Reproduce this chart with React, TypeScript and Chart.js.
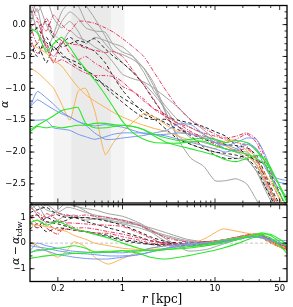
import React, { useEffect, useRef } from 'react';
import { Chart, registerables } from 'chart.js';

Chart.register(...registerables);

// ---------- top panel: alpha(r) ----------
const R_TOP = [0.1, 0.12, 0.15, 0.18, 0.22, 0.27, 0.33, 0.4, 0.5, 0.65, 0.8, 1, 1.3, 1.7, 2.2, 3, 4, 5.5, 7.5, 10, 13, 17, 22, 28, 35, 45, 60];

const alphaGray1 = [0.5, 0.7, 0.6, 0.55, 0.5, 0.45, 0.4, 0.3, 0.1, -0.18, -0.42, -0.47, -0.55, -0.68, -0.93, -1.4, -1.8, -2.1, -2.22, -2.45, -2.45, -2.42, -2.5, -2.75, -3.0, -3.2, -3.3];
const alphaGray2 = [0.1, 0.35, 0.0, -0.2, 0.05, 0.2, 0.1, -0.05, -0.1, -0.12, -0.32, -0.43, -0.5, -0.69, -0.98, -1.42, -1.75, -1.88, -1.95, -2.0, -2.05, -2.1, -2.12, -2.3, -2.6, -2.9, -3.1];
const alphaGray3 = [0.0, 0.25, -0.4, -0.15, 0.2, 0.35, 0.3, 0.05, -0.1, -0.3, -0.45, -0.6, -0.75, -0.92, -1.1, -1.35, -1.6, -1.78, -1.85, -1.9, -1.95, -2.0, -2.0, -2.2, -2.5, -2.85, -3.0];
const alphaGray4 = [0.3, -0.1, -0.35, -0.5, -0.3, -0.1, -0.2, -0.25, -0.35, -0.45, -0.6, -0.78, -0.85, -0.9, -1.0, -1.15, -1.3, -1.5, -1.65, -1.8, -1.9, -2.0, -2.1, -2.3, -2.55, -2.8, -3.0];
const alphaGray5 = [0.45, 0.2, 0.4, 0.1, -0.05, 0.05, -0.1, -0.3, -0.2, -0.25, -0.3, -0.35, -0.5, -0.75, -1.05, -1.3, -1.5, -1.62, -1.72, -1.82, -1.88, -1.95, -2.05, -2.2, -2.45, -2.75, -2.95];

const alphaBlack1 = [-0.1, -0.05, -0.28, -0.36, -0.45, -0.58, -0.66, -0.72, -0.8, -0.98, -1.1, -1.22, -1.35, -1.46, -1.49, -1.49, -1.6, -1.75, -1.92, -2.05, -2.1, -2.1, -2.05, -2.15, -2.4, -2.75, -3.0];
const alphaBlack2 = [-0.3, -0.5, -0.2, -0.4, -0.3, -0.2, -0.3, -0.35, -0.42, -0.6, -0.82, -1.03, -1.22, -1.4, -1.48, -1.65, -1.8, -1.88, -1.95, -2.0, -2.02, -2.05, -2.1, -2.25, -2.55, -2.85, -3.1];
const alphaBlack3 = [-0.15, -0.05, 0.05, -0.2, -0.35, -0.3, -0.25, -0.28, -0.22, -0.38, -0.5, -0.6, -0.75, -0.95, -1.2, -1.45, -1.5, -1.55, -1.6, -1.68, -1.75, -1.9, -2.05, -2.13, -2.2, -2.5, -2.9];
const alphaBlack4 = [-0.5, -0.3, -0.6, -0.35, -0.5, -0.55, -0.6, -0.7, -0.85, -0.95, -1.05, -1.15, -1.25, -1.35, -1.45, -1.55, -1.65, -1.72, -1.8, -1.85, -1.88, -1.9, -1.93, -2.05, -2.35, -2.7, -3.0];

const alphaRed1 = [0.0, -0.3, 0.1, -0.15, -0.25, -0.3, -0.32, -0.37, -0.4, -0.44, -0.42, -0.5, -0.72, -0.95, -1.18, -1.48, -1.6, -1.7, -1.75, -1.8, -1.85, -1.8, -1.72, -1.85, -2.2, -2.6, -3.0];
const alphaRed2 = [-0.2, -0.45, -0.3, -0.6, -0.55, -0.62, -0.7, -0.76, -0.8, -0.8, -0.82, -0.97, -1.05, -1.17, -1.33, -1.45, -1.55, -1.62, -1.7, -1.75, -1.8, -1.85, -1.9, -2.1, -2.45, -2.8, -3.1];
const alphaRed3 = [0.35, 0.1, -0.1, 0.15, 0.0, -0.1, 0.05, 0.05, 0.02, -0.05, -0.12, -0.22, -0.35, -0.5, -0.75, -1.05, -1.3, -1.5, -1.62, -1.72, -1.78, -1.75, -1.7, -1.8, -2.1, -2.5, -2.9];
const alphaRed4 = [-0.05, 0.05, -0.35, -0.6, -0.25, -0.45, -0.55, -0.5, -0.6, -0.7, -0.8, -0.9, -1.05, -1.2, -1.32, -1.42, -1.55, -1.68, -1.78, -1.88, -1.95, -1.98, -1.95, -2.1, -2.4, -2.75, -3.0];

const alphaOrange1 = [-0.3, -0.36, -0.45, -0.56, -0.65, -0.82, -0.98, -1.1, -1.2, -1.3, -1.38, -1.45, -1.52, -1.58, -1.63, -1.68, -1.75, -1.82, -1.9, -1.95, -1.82, -1.82, -1.98, -2.15, -2.35, -2.6, -2.95];
const alphaOrange2 = [-0.68, -0.75, -0.88, -1.0, -1.25, -1.5, -1.05, -1.0, -1.35, -2.04, -1.85, -1.68, -1.53, -1.4, -1.45, -1.58, -1.68, -1.72, -1.78, -1.85, -1.9, -1.98, -2.05, -2.2, -2.45, -2.75, -3.0];

const alphaBlue1 = [-1.3, -1.18, -1.26, -1.33, -1.4, -1.45, -1.52, -1.58, -1.7, -1.8, -1.8, -1.78, -1.76, -1.74, -1.7, -1.66, -1.56, -1.57, -1.72, -1.85, -1.95, -1.98, -1.88, -1.95, -2.15, -2.4, -2.45];
const alphaBlue2 = [-1.5, -1.5, -1.5, -1.62, -1.64, -1.66, -1.72, -1.76, -1.8, -1.76, -1.72, -1.7, -1.7, -1.7, -1.72, -1.75, -1.8, -1.85, -1.9, -1.95, -2.0, -1.95, -1.85, -1.95, -2.25, -2.5, -2.7];
const alphaBlue3 = [-1.3, -1.05, -1.15, -1.25, -1.37, -1.45, -1.52, -1.56, -1.59, -1.57, -1.59, -1.61, -1.66, -1.71, -1.73, -1.72, -1.7, -1.72, -1.78, -1.85, -1.9, -1.85, -1.78, -1.8, -2.05, -2.45, -2.5];

const alphaGreen1 = [-0.05, -0.13, -0.43, -0.3, -0.2, -0.36, -0.55, -0.7, -0.87, -1.1, -1.3, -1.52, -1.7, -1.8, -1.85, -1.86, -1.86, -1.84, -1.83, -1.9, -1.95, -2.0, -2.03, -2.1, -2.2, -2.55, -2.85];
const alphaGreen2 = [-1.65, -1.58, -1.5, -1.43, -1.35, -1.32, -1.3, -1.55, -1.62, -1.62, -1.6, -1.58, -1.6, -1.65, -1.72, -1.78, -1.82, -1.8, -1.78, -1.8, -1.85, -1.82, -1.85, -1.98, -2.15, -2.4, -2.75];
const alphaGreen3 = [-1.68, -1.6, -1.62, -1.6, -1.62, -1.6, -1.58, -1.58, -1.55, -1.55, -1.57, -1.58, -1.6, -1.65, -1.75, -1.85, -1.9, -1.95, -2.0, -2.05, -2.12, -2.15, -2.1, -2.05, -2.1, -2.4, -2.8];

// ---------- bottom panel: alpha - alpha_tdw ----------
const R_RES = [0.1, 0.12, 0.15, 0.2, 0.25, 0.3, 0.4, 0.5, 0.7, 1, 1.5, 2, 3, 5, 8, 12, 18, 25, 32, 40, 50, 60];

const resGray1 = [1.7, 1.8, 1.7, 1.6, 1.55, 1.45, 1.35, 1.3, 1.15, 1.05, 0.8, 0.55, 0.15, -0.3, -0.25, -0.05, 0.15, 0.3, 0.25, 0.05, -0.15, -0.25];
const resGray2 = [1.4, 1.6, 1.3, 1.2, 1.4, 1.35, 1.2, 1.1, 1.0, 0.85, 0.7, 0.45, 0.05, -0.1, -0.1, 0.05, 0.2, 0.3, 0.3, 0.1, -0.1, -0.2];
const resGray3 = [1.3, 1.5, 1.0, 1.3, 1.6, 1.5, 1.25, 1.05, 0.85, 0.75, 0.6, 0.45, 0.25, 0.05, 0.0, 0.1, 0.22, 0.3, 0.28, 0.1, -0.05, -0.15];
const resGray4 = [1.5, 1.1, 0.8, 0.9, 1.1, 1.0, 1.0, 0.95, 0.9, 0.8, 0.7, 0.6, 0.4, 0.15, 0.05, 0.1, 0.2, 0.25, 0.22, 0.05, -0.1, -0.2];
const resGray5 = [1.6, 1.3, 1.5, 1.2, 1.05, 1.1, 0.9, 0.95, 0.95, 0.9, 0.75, 0.5, 0.3, 0.1, 0.05, 0.12, 0.25, 0.32, 0.3, 0.12, -0.05, -0.15];

const resBlack1 = [1.05, 1.1, 0.85, 0.75, 0.65, 0.55, 0.45, 0.4, 0.3, 0.15, 0.05, -0.05, -0.1, -0.1, -0.05, 0.05, 0.15, 0.25, 0.2, 0.0, -0.15, -0.25];
const resBlack2 = [0.8, 0.6, 1.0, 0.8, 0.9, 1.0, 0.85, 0.75, 0.6, 0.45, 0.25, 0.1, 0.0, -0.05, 0.0, 0.1, 0.2, 0.3, 0.25, 0.05, -0.1, -0.2];
const resBlack3 = [1.2, 1.3, 1.4, 1.1, 1.0, 1.0, 1.0, 0.95, 0.85, 0.7, 0.45, 0.25, 0.05, 0.0, 0.05, 0.12, 0.22, 0.3, 0.28, 0.15, 0.0, -0.1];
const resBlack4 = [0.55, 0.75, 0.45, 0.6, 0.55, 0.5, 0.45, 0.35, 0.25, 0.1, 0.0, -0.05, -0.05, -0.05, 0.0, 0.08, 0.18, 0.28, 0.22, 0.05, -0.1, -0.2];

const resRed1 = [1.05, 0.75, 1.15, 0.9, 0.8, 0.78, 0.75, 0.72, 0.7, 0.65, 0.4, 0.2, -0.05, -0.05, 0.0, 0.1, 0.25, 0.35, 0.3, 0.1, -0.05, -0.15];
const resRed2 = [0.85, 0.6, 0.75, 0.5, 0.55, 0.5, 0.45, 0.4, 0.38, 0.25, 0.12, 0.0, -0.05, -0.05, 0.05, 0.12, 0.2, 0.3, 0.25, 0.05, -0.15, -0.25];
const resRed3 = [1.4, 1.2, 1.0, 1.15, 1.1, 1.05, 1.1, 1.05, 1.0, 0.9, 0.7, 0.5, 0.2, 0.05, 0.05, 0.12, 0.25, 0.35, 0.35, 0.15, 0.0, -0.1];
const resRed4 = [1.0, 1.1, 0.6, 0.35, 0.75, 0.6, 0.6, 0.55, 0.45, 0.35, 0.2, 0.08, 0.0, -0.02, 0.02, 0.1, 0.22, 0.32, 0.3, 0.1, -0.05, -0.15];

const resOrange1 = [0.72, 0.7, 0.65, 0.55, 0.45, 0.3, 0.15, 0.0, -0.1, -0.2, -0.25, -0.25, -0.2, -0.1, 0.2, 0.55, 0.45, 0.35, 0.25, 0.05, -0.1, -0.2];
const resOrange2 = [0.0, -0.1, -0.3, -0.55, -0.3, 0.05, -0.15, -0.55, -0.82, -0.6, -0.35, -0.2, -0.1, -0.05, 0.02, 0.12, 0.22, 0.3, 0.2, 0.0, -0.15, -0.3];

const resBlue1 = [-0.1, -0.15, -0.2, -0.3, -0.35, -0.4, -0.42, -0.45, -0.5, -0.5, -0.45, -0.35, -0.2, 0.0, 0.0, 0.05, 0.18, 0.25, 0.22, 0.1, 0.0, -0.1];
const resBlue2 = [-0.4, -0.25, -0.3, -0.45, -0.5, -0.55, -0.6, -0.62, -0.62, -0.55, -0.45, -0.35, -0.2, -0.1, -0.05, 0.05, 0.15, 0.25, 0.25, 0.1, 0.0, -0.1];
const resBlue3 = [-0.3, 0.0, -0.1, -0.2, -0.28, -0.32, -0.35, -0.38, -0.36, -0.38, -0.3, -0.2, -0.1, -0.05, 0.0, 0.1, 0.2, 0.25, 0.2, 0.15, 0.1, 0.1];

const resGreen1 = [0.8, 0.9, 0.7, 0.85, 0.7, 0.55, 0.45, 0.35, 0.2, 0.0, -0.2, -0.3, -0.25, -0.15, -0.05, 0.1, 0.2, 0.3, 0.4, 0.3, 0.05, -0.1];
const resGreen2 = [-0.35, -0.3, -0.25, -0.2, -0.15, -0.1, -0.2, -0.35, -0.35, -0.3, -0.3, -0.28, -0.25, -0.2, -0.1, 0.0, 0.15, 0.3, 0.35, 0.35, 0.15, -0.05];
const resGreen3 = [-0.6, -0.55, -0.5, -0.45, -0.42, -0.4, -0.38, -0.35, -0.32, -0.3, -0.4, -0.55, -0.62, -0.5, -0.35, -0.2, 0.0, 0.2, 0.3, 0.2, -0.1, -0.4];

const ZERO_R = [0.1, 60];
const ZERO_V = [0, 0];

// ---------- axes ----------
const X_MIN = 0.1;
const X_MAX = 60;
const X_MAJOR = [0.2, 1, 10, 50];
const X_LABELS = ['0.2', '1', '10', '50'];
const X_MINOR = [0.3, 0.4, 0.5, 0.6, 0.7, 0.8, 0.9, 2, 3, 4, 5, 6, 7, 8, 9, 20, 30, 40];
const Y_TOP_RANGE = [-2.8, 0.3];
const Y_TOP_MAJOR = [0, -0.5, -1, -1.5, -2, -2.5];
const Y_TOP_LABELS = ['0.0', '−0.5', '−1.0', '−1.5', '−2.0', '−2.5'];
const Y_BOT_RANGE = [-1.5, 1.5];
const Y_BOT_MAJOR = [1, 0, -1];
const Y_BOT_LABELS = ['1', '0', '−1'];
const BAND_START = [0.18, 0.28];
const BAND_END = [0.75, 1.05];

const STYLE: Record<string, any> = {
  gray: { borderColor: '#a2a2a2', borderWidth: 1, borderDash: [], order: 6 },
  black: { borderColor: '#1e1e1e', borderWidth: 1, borderDash: [3.5, 2.5], order: 5 },
  red: { borderColor: '#e2375f', borderWidth: 1, borderDash: [4, 1.5, 1, 1.5], order: 4 },
  orange: { borderColor: '#fab14f', borderWidth: 1, borderDash: [], order: 3 },
  blue: { borderColor: '#7398ee', borderWidth: 1, borderDash: [], order: 2 },
  green: { borderColor: '#2ce62c', borderWidth: 1.1, borderDash: [], order: 1 },
};

const TOP_SERIES: [number[], string][] = [
  [alphaGray1, 'gray'], [alphaGray2, 'gray'], [alphaGray3, 'gray'], [alphaGray4, 'gray'], [alphaGray5, 'gray'],
  [alphaBlack1, 'black'], [alphaBlack2, 'black'], [alphaBlack3, 'black'], [alphaBlack4, 'black'],
  [alphaRed1, 'red'], [alphaRed2, 'red'], [alphaRed3, 'red'], [alphaRed4, 'red'],
  [alphaOrange1, 'orange'], [alphaOrange2, 'orange'],
  [alphaBlue1, 'blue'], [alphaBlue2, 'blue'], [alphaBlue3, 'blue'],
  [alphaGreen1, 'green'], [alphaGreen2, 'green'], [alphaGreen3, 'green'],
];

const BOT_SERIES: [number[], string][] = [
  [resGray1, 'gray'], [resGray2, 'gray'], [resGray3, 'gray'], [resGray4, 'gray'], [resGray5, 'gray'],
  [resBlack1, 'black'], [resBlack2, 'black'], [resBlack3, 'black'], [resBlack4, 'black'],
  [resRed1, 'red'], [resRed2, 'red'], [resRed3, 'red'], [resRed4, 'red'],
  [resOrange1, 'orange'], [resOrange2, 'orange'],
  [resBlue1, 'blue'], [resBlue2, 'blue'], [resBlue3, 'blue'],
  [resGreen1, 'green'], [resGreen2, 'green'], [resGreen3, 'green'],
];

const TICK_FONT = '8.5px "DejaVu Sans"';
const SERIF = '"DejaVu Serif"';

function makeDatasets(rs: number[], series: [number[], string][]) {
  return series.map(([vals, kind]) => ({
    data: rs.map((r, i) => ({ x: r, y: vals[i] })),
    ...STYLE[kind],
    pointRadius: 0,
    tension: 0.2,
    fill: false,
  }));
}

function yMinorTicks(range: number[], step: number) {
  const out: number[] = [];
  const start = Math.ceil(range[0] / step - 1e-9);
  const end = Math.floor(range[1] / step + 1e-9);
  for (let k = start; k <= end; k++) out.push(k * step);
  return out;
}

type Part = { text: string; font: string; dy?: number };

function drawRich(ctx: CanvasRenderingContext2D, parts: Part[], x: number, y: number, rotate: boolean) {
  ctx.save();
  ctx.translate(x, y);
  if (rotate) ctx.rotate(-Math.PI / 2);
  let total = 0;
  parts.forEach((p) => {
    ctx.font = p.font;
    total += ctx.measureText(p.text).width;
  });
  let cx = -total / 2;
  ctx.textAlign = 'left';
  ctx.textBaseline = 'alphabetic';
  ctx.fillStyle = '#000';
  parts.forEach((p) => {
    ctx.font = p.font;
    ctx.fillText(p.text, cx, p.dy || 0);
    cx += ctx.measureText(p.text).width;
  });
  ctx.restore();
}

type FrameOpts = {
  yMajor: number[];
  yLabels: string[];
  yMinor: number[];
  xLabels?: string[];
  bands?: boolean;
  titles: (ctx: CanvasRenderingContext2D, area: any) => void;
};

function framePlugin(o: FrameOpts) {
  return {
    id: 'mplFrame',
    beforeDatasetsDraw(chart: any) {
      if (!o.bands) return;
      const { ctx, chartArea: a } = chart;
      const xs = chart.scales.x;
      ctx.save();
      ctx.fillStyle = 'rgba(0,0,0,0.045)';
      BAND_START.forEach((s, i) => {
        const x0 = xs.getPixelForValue(s);
        const x1 = xs.getPixelForValue(BAND_END[i]);
        ctx.fillRect(x0, a.top, x1 - x0, a.bottom - a.top);
      });
      ctx.restore();
    },
    afterDatasetsDraw(chart: any) {
      const { ctx, chartArea: a } = chart;
      const xs = chart.scales.x;
      const ys = chart.scales.y;
      ctx.save();
      ctx.strokeStyle = '#000';
      ctx.lineWidth = 0.8;
      ctx.beginPath();
      const tickX = (v: number, len: number) => {
        const p = xs.getPixelForValue(v);
        ctx.moveTo(p, a.bottom);
        ctx.lineTo(p, a.bottom - len);
        ctx.moveTo(p, a.top);
        ctx.lineTo(p, a.top + len);
      };
      const tickY = (v: number, len: number) => {
        const p = ys.getPixelForValue(v);
        ctx.moveTo(a.left, p);
        ctx.lineTo(a.left + len, p);
        ctx.moveTo(a.right, p);
        ctx.lineTo(a.right - len, p);
      };
      X_MAJOR.forEach((v) => tickX(v, 4.5));
      X_MINOR.forEach((v) => tickX(v, 2.5));
      o.yMajor.forEach((v) => tickY(v, 4.5));
      o.yMinor.forEach((v) => tickY(v, 2.5));
      ctx.stroke();
      ctx.lineWidth = 1.3;
      ctx.strokeRect(a.left, a.top, a.right - a.left, a.bottom - a.top);

      ctx.fillStyle = '#000';
      ctx.font = TICK_FONT;
      ctx.textAlign = 'right';
      ctx.textBaseline = 'middle';
      o.yMajor.forEach((v, i) => ctx.fillText(o.yLabels[i], a.left - 4, ys.getPixelForValue(v)));
      if (o.xLabels) {
        ctx.textAlign = 'center';
        ctx.textBaseline = 'top';
        X_MAJOR.forEach((v, i) => ctx.fillText(o.xLabels![i], xs.getPixelForValue(v), a.bottom + 3.5));
      }
      ctx.restore();
      o.titles(ctx, a);
    },
  };
}

function baseOptions(yRange: number[], padding: any) {
  return {
    animation: false,
    responsive: false,
    devicePixelRatio: 1,
    events: [],
    layout: { padding },
    plugins: { legend: { display: false }, tooltip: { enabled: false } },
    scales: {
      x: { type: 'logarithmic', min: X_MIN, max: X_MAX, display: false },
      y: { type: 'linear', min: yRange[0], max: yRange[1], display: false },
    },
  };
}

export default function App() {
  const topRef = useRef<HTMLCanvasElement>(null);
  const botRef = useRef<HTMLCanvasElement>(null);

  useEffect(() => {
    const top = new Chart(topRef.current as HTMLCanvasElement, {
      type: 'line',
      data: { datasets: makeDatasets(R_TOP, TOP_SERIES) as any },
      options: baseOptions(Y_TOP_RANGE, { left: 30, right: 6, top: 5.5, bottom: 2 }) as any,
      plugins: [
        framePlugin({
          yMajor: Y_TOP_MAJOR,
          yLabels: Y_TOP_LABELS,
          yMinor: yMinorTicks(Y_TOP_RANGE, 0.1),
          bands: true,
          titles: (ctx, a) => {
            drawRich(ctx, [{ text: 'α', font: `italic 11px ${SERIF}` }], 7.5, (a.top + a.bottom) / 2, true);
          },
        }),
      ],
    });

    const zeroSet = {
      data: ZERO_R.map((r, i) => ({ x: r, y: ZERO_V[i] })),
      borderColor: '#c4c4c4',
      borderWidth: 1,
      borderDash: [3, 2],
      pointRadius: 0,
      order: 10,
      fill: false,
    };

    const bot = new Chart(botRef.current as HTMLCanvasElement, {
      type: 'line',
      data: { datasets: [zeroSet, ...makeDatasets(R_RES, BOT_SERIES)] as any },
      options: baseOptions(Y_BOT_RANGE, { left: 30, right: 6, top: 4.75, bottom: 25.5 }) as any,
      plugins: [
        framePlugin({
          yMajor: Y_BOT_MAJOR,
          yLabels: Y_BOT_LABELS,
          yMinor: yMinorTicks(Y_BOT_RANGE, 0.5),
          xLabels: X_LABELS,
          titles: (ctx, a) => {
            drawRich(
              ctx,
              [
                { text: 'α', font: `italic 11px ${SERIF}` },
                { text: '\u2009−\u2009', font: `11px ${SERIF}` },
                { text: 'α', font: `italic 11px ${SERIF}` },
                { text: 'tdw', font: `8px ${SERIF}`, dy: 2.5 },
              ],
              19,
              (a.top + a.bottom) / 2,
              true
            );
            drawRich(
              ctx,
              [
                { text: 'r', font: `italic 12px ${SERIF}` },
                { text: ' [kpc]', font: `12px ${SERIF}` },
              ],
              162,
              102.5,
              false
            );
          },
        }),
      ],
    });

    return () => {
      top.destroy();
      bot.destroy();
    };
  }, []);

  return (
    <div style={{ position: 'absolute', left: 0, top: 0, width: 293, height: 307, background: '#fff' }}>
      <canvas ref={topRef} width={293} height={205} style={{ position: 'absolute', left: 0, top: 0, width: 293, height: 205 }} />
      <canvas ref={botRef} width={293} height={107} style={{ position: 'absolute', left: 0, top: 200, width: 293, height: 107 }} />
    </div>
  );
}
